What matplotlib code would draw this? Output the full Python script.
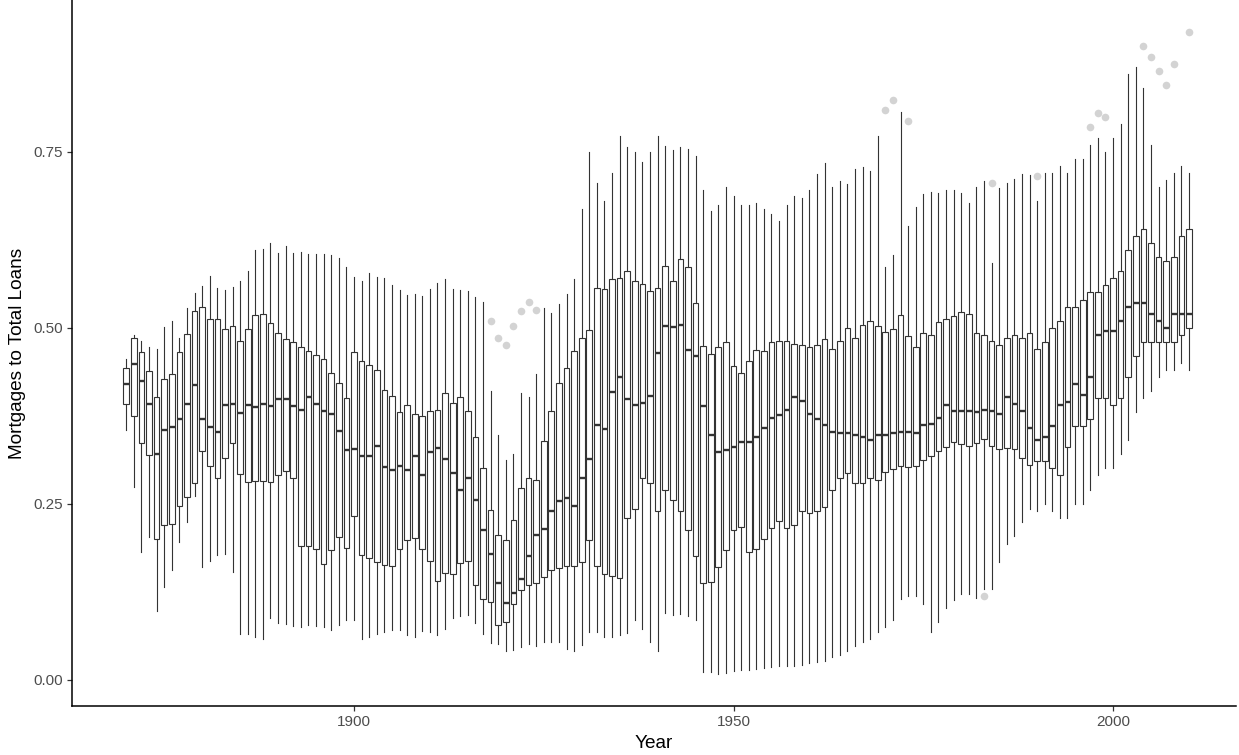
import matplotlib.pyplot as plt

# years 1870..2010, one box per year
years = list(range(1870, 2011))

whis_lo = [
    0.355, 0.273, 0.181, 0.202, 0.098, 0.131, 0.155, 0.196, 0.224, 0.261,
    0.160, 0.169, 0.177, 0.178, 0.153, 0.065, 0.064, 0.061, 0.058, 0.087,
    0.081, 0.079, 0.076, 0.075, 0.077, 0.076, 0.075, 0.071, 0.078, 0.085,
    0.085, 0.058, 0.060, 0.065, 0.067, 0.070, 0.070, 0.063, 0.061, 0.069,
    0.068, 0.063, 0.072, 0.087, 0.090, 0.091, 0.080, 0.065, 0.052, 0.051,
    0.041, 0.042, 0.046, 0.051, 0.047, 0.053, 0.053, 0.054, 0.044, 0.041,
    0.049, 0.067, 0.068, 0.061, 0.061, 0.063, 0.066, 0.084, 0.072, 0.053,
    0.041, 0.095, 0.091, 0.093, 0.090, 0.084, 0.011, 0.011, 0.008, 0.010,
    0.012, 0.013, 0.013, 0.015, 0.016, 0.018, 0.019, 0.019, 0.019, 0.021,
    0.023, 0.025, 0.027, 0.032, 0.035, 0.040, 0.047, 0.053, 0.058, 0.068,
    0.075, 0.085, 0.115, 0.119, 0.119, 0.107, 0.067, 0.082, 0.102, 0.113,
    0.121, 0.122, 0.116, 0.128, 0.128, 0.167, 0.192, 0.204, 0.224, 0.242,
    0.240, 0.250, 0.240, 0.230, 0.230, 0.250, 0.250, 0.270, 0.290, 0.300,
    0.300, 0.320, 0.340, 0.380, 0.400, 0.410, 0.430, 0.440, 0.440, 0.450,
    0.440,
]
q1 = [
    0.392, 0.375, 0.336, 0.319, 0.199, 0.219, 0.221, 0.247, 0.259, 0.279,
    0.325, 0.304, 0.287, 0.315, 0.336, 0.292, 0.281, 0.282, 0.282, 0.281,
    0.290, 0.296, 0.286, 0.190, 0.190, 0.186, 0.164, 0.184, 0.202, 0.187,
    0.232, 0.177, 0.172, 0.167, 0.163, 0.162, 0.186, 0.198, 0.201, 0.186,
    0.169, 0.140, 0.151, 0.150, 0.165, 0.168, 0.135, 0.115, 0.110, 0.078,
    0.082, 0.107, 0.127, 0.134, 0.137, 0.145, 0.156, 0.159, 0.162, 0.162,
    0.167, 0.198, 0.161, 0.150, 0.147, 0.144, 0.229, 0.242, 0.286, 0.279,
    0.240, 0.269, 0.255, 0.239, 0.213, 0.175, 0.137, 0.139, 0.160, 0.184,
    0.212, 0.217, 0.181, 0.186, 0.199, 0.215, 0.225, 0.216, 0.220, 0.239,
    0.236, 0.240, 0.245, 0.270, 0.287, 0.293, 0.279, 0.279, 0.286, 0.284,
    0.295, 0.299, 0.304, 0.302, 0.304, 0.312, 0.318, 0.325, 0.330, 0.338,
    0.335, 0.332, 0.336, 0.342, 0.332, 0.327, 0.329, 0.328, 0.315, 0.305,
    0.310, 0.310, 0.300, 0.290, 0.330, 0.360, 0.360, 0.370, 0.400, 0.400,
    0.390, 0.400, 0.430, 0.460, 0.480, 0.480, 0.480, 0.480, 0.480, 0.490,
    0.500,
]
med = [
    0.420, 0.448, 0.424, 0.392, 0.321, 0.355, 0.359, 0.370, 0.392, 0.419,
    0.370, 0.359, 0.352, 0.390, 0.392, 0.379, 0.390, 0.387, 0.392, 0.388,
    0.399, 0.399, 0.389, 0.383, 0.401, 0.392, 0.381, 0.378, 0.353, 0.326,
    0.328, 0.318, 0.318, 0.332, 0.302, 0.298, 0.303, 0.298, 0.317, 0.291,
    0.323, 0.329, 0.313, 0.294, 0.270, 0.287, 0.255, 0.213, 0.179, 0.137,
    0.109, 0.123, 0.143, 0.176, 0.205, 0.214, 0.239, 0.253, 0.258, 0.247,
    0.287, 0.313, 0.361, 0.356, 0.409, 0.430, 0.399, 0.390, 0.393, 0.403,
    0.464, 0.502, 0.501, 0.504, 0.468, 0.460, 0.389, 0.348, 0.324, 0.326,
    0.330, 0.338, 0.337, 0.345, 0.358, 0.372, 0.376, 0.383, 0.402, 0.396,
    0.377, 0.370, 0.362, 0.352, 0.351, 0.350, 0.348, 0.345, 0.340, 0.347,
    0.348, 0.350, 0.352, 0.352, 0.350, 0.361, 0.363, 0.371, 0.390, 0.382,
    0.382, 0.382, 0.380, 0.383, 0.381, 0.378, 0.401, 0.392, 0.381, 0.357,
    0.340, 0.345, 0.360, 0.390, 0.395, 0.420, 0.405, 0.430, 0.490, 0.495,
    0.495, 0.510, 0.530, 0.535, 0.535, 0.520, 0.510, 0.500, 0.520, 0.520,
    0.520,
]
q3 = [
    0.442, 0.486, 0.466, 0.438, 0.401, 0.427, 0.434, 0.466, 0.491, 0.523,
    0.530, 0.513, 0.513, 0.498, 0.503, 0.481, 0.498, 0.518, 0.519, 0.507,
    0.492, 0.484, 0.480, 0.472, 0.467, 0.461, 0.455, 0.435, 0.422, 0.400,
    0.465, 0.452, 0.447, 0.440, 0.411, 0.403, 0.380, 0.390, 0.377, 0.374,
    0.381, 0.383, 0.407, 0.393, 0.401, 0.381, 0.344, 0.301, 0.241, 0.205,
    0.198, 0.226, 0.272, 0.286, 0.284, 0.339, 0.381, 0.421, 0.442, 0.467,
    0.486, 0.497, 0.556, 0.555, 0.569, 0.570, 0.580, 0.567, 0.562, 0.552,
    0.556, 0.587, 0.567, 0.598, 0.586, 0.535, 0.474, 0.463, 0.472, 0.480,
    0.446, 0.435, 0.452, 0.468, 0.467, 0.480, 0.481, 0.481, 0.477, 0.475,
    0.473, 0.475, 0.484, 0.470, 0.481, 0.500, 0.486, 0.504, 0.509, 0.502,
    0.494, 0.498, 0.518, 0.488, 0.472, 0.493, 0.489, 0.508, 0.513, 0.516,
    0.522, 0.519, 0.493, 0.489, 0.481, 0.475, 0.486, 0.489, 0.486, 0.493,
    0.470, 0.480, 0.500, 0.510, 0.530, 0.530, 0.540, 0.550, 0.550, 0.560,
    0.570, 0.580, 0.610, 0.630, 0.640, 0.620, 0.600, 0.595, 0.600, 0.630,
    0.640,
]
whis_hi = [
    0.455, 0.489, 0.481, 0.473, 0.470, 0.501, 0.509, 0.486, 0.528, 0.549,
    0.559, 0.573, 0.556, 0.554, 0.558, 0.566, 0.581, 0.610, 0.612, 0.620,
    0.606, 0.616, 0.606, 0.608, 0.604, 0.604, 0.605, 0.603, 0.599, 0.586,
    0.572, 0.566, 0.577, 0.572, 0.570, 0.561, 0.553, 0.547, 0.548, 0.545,
    0.555, 0.564, 0.569, 0.555, 0.553, 0.552, 0.543, 0.536, 0.410, 0.347,
    0.312, 0.320, 0.407, 0.402, 0.434, 0.528, 0.521, 0.534, 0.548, 0.569,
    0.669, 0.750, 0.705, 0.680, 0.720, 0.773, 0.757, 0.750, 0.735, 0.749,
    0.772, 0.758, 0.752, 0.757, 0.754, 0.744, 0.695, 0.666, 0.674, 0.700,
    0.687, 0.674, 0.674, 0.677, 0.669, 0.662, 0.652, 0.674, 0.687, 0.684,
    0.696, 0.719, 0.734, 0.700, 0.709, 0.704, 0.726, 0.728, 0.723, 0.773,
    0.586, 0.603, 0.806, 0.644, 0.672, 0.690, 0.693, 0.691, 0.695, 0.696,
    0.692, 0.677, 0.700, 0.708, 0.592, 0.698, 0.706, 0.711, 0.718, 0.717,
    0.680, 0.720, 0.720, 0.730, 0.720, 0.740, 0.740, 0.760, 0.770, 0.750,
    0.770, 0.790, 0.860, 0.870, 0.840, 0.760, 0.700, 0.710, 0.720, 0.730,
    0.720,
]

# outlying points
out_years = [1918, 1919, 1920, 1921, 1922, 1923, 1924, 1970, 1971, 1973,
             1983, 1984, 1990, 1997, 1998, 1999, 2004, 2005, 2006, 2007,
             2008, 2010]
out_vals = [0.509, 0.486, 0.475, 0.503, 0.523, 0.536, 0.525, 0.810, 0.823,
            0.794, 0.118, 0.705, 0.715, 0.785, 0.805, 0.800, 0.900, 0.885,
            0.865, 0.845, 0.875, 0.920]


def make_chart():
    stats = []
    for i, yr in enumerate(years):
        fl = [v for y, v in zip(out_years, out_vals) if y == yr]
        stats.append({"med": med[i], "q1": q1[i], "q3": q3[i],
                      "whislo": whis_lo[i], "whishi": whis_hi[i], "fliers": fl})

    fig = plt.figure(figsize=(12.39, 7.55), dpi=100)
    ax = fig.add_axes([72 / 1239, 49 / 755, 1164 / 1239, 706 / 755])

    line = dict(color="#333333", linewidth=0.8)
    ax.bxp(stats, positions=years, widths=0.75, showcaps=False,
           patch_artist=True, manage_ticks=False,
           boxprops=dict(facecolor="white", edgecolor="#333333", linewidth=0.8),
           whiskerprops=line,
           medianprops=dict(color="#333333", linewidth=1.7, solid_capstyle="butt"),
           flierprops=dict(marker="o", markersize=5.5, markerfacecolor="#D3D3D3",
                           markeredgecolor="none"))

    ax.set_xlim(1862.85, 2016.2)
    ax.set_ylim(-0.0376, 0.9656)
    ax.set_xticks([1900, 1950, 2000])
    ax.set_yticks([0.0, 0.25, 0.5, 0.75])
    ax.set_yticklabels(["0.00", "0.25", "0.50", "0.75"])

    for s in ["top", "right"]:
        ax.spines[s].set_visible(False)
    for s in ["left", "bottom"]:
        ax.spines[s].set_linewidth(1.1)
        ax.spines[s].set_color("black")
    ax.tick_params(length=3.5, width=0.9, color="#333333", labelcolor="#4D4D4D",
                   labelsize=11, pad=3)
    ax.set_xlabel("Year", fontsize=13.7, labelpad=4)
    ax.set_ylabel("Mortgages to Total Loans", fontsize=13.7, labelpad=5)

    fig.savefig("out.png", dpi=100)


if __name__ == "__main__":
    plt.rcParams["font.family"] = ["Liberation Sans", "DejaVu Sans"]
    make_chart()
